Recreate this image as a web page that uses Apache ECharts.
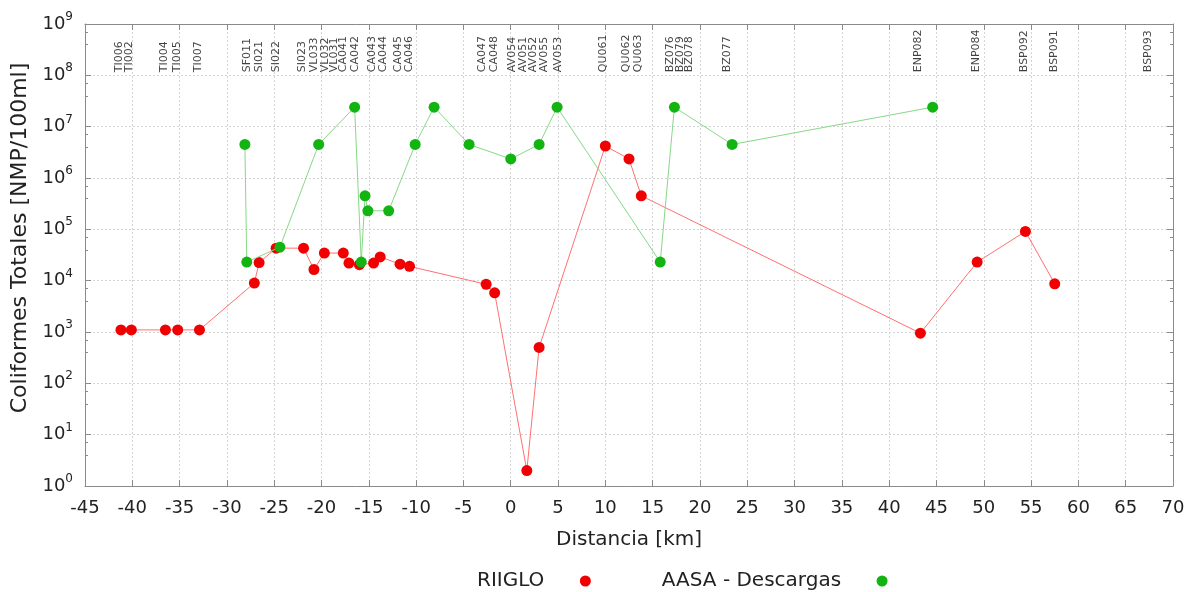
<!DOCTYPE html>
<html>
<head>
<meta charset="utf-8">
<script src="https://cdn.jsdelivr.net/npm/echarts@6/dist/echarts.min.js"></script>
<style>
html,body{margin:0;padding:0;background:#fff;}
#chart{width:1197px;height:592px;}
</style>
</head>
<body>
<div id="chart"></div>
<script>
// ---- Data ----
const riigloX = [-41.2, -40.1, -36.5, -35.2, -32.9, -27.1, -26.6, -24.8, -21.9, -20.8, -19.7, -17.7, -17.1, -16.0, -14.5, -13.8, -11.7, -10.7, -2.6, -1.7, 1.7, 3.0, 10.0, 12.5, 13.8, 43.3, 49.3, 54.4, 57.5];
const riigloY = [1100, 1100, 1100, 1100, 1100, 9000, 22500, 43000, 43000, 16500, 34500, 34500, 22000, 20500, 22000, 29000, 21000, 19000, 8500, 5800, 2, 500, 4200000, 2350000, 450000, 950, 23000, 91000, 8700];

const aasaX = [-28.1, -27.9, -24.4, -20.3, -16.5, -15.8, -15.4, -15.1, -12.9, -10.1, -8.1, -4.4, 0.0, 3.0, 4.9, 15.8, 17.3, 23.4, 44.6];
const aasaY = [4500000, 23000, 45000, 4500000, 24000000, 23000, 450000, 230000, 230000, 4500000, 24000000, 4500000, 2350000, 4500000, 24000000, 23000, 24000000, 4500000, 24000000];

const stationNames = ['TI006','TI002','TI004','TI005','TI007','SF011','SI021','SI022','SI023','VL033','VL032','VL031','CA041','CA042','CA043','CA044','CA045','CA046','CA047','CA048','AV054','AV051','AV052','AV055','AV053','QU061','QU062','QU063','BZ076','BZ079','BZ078','BZ077','ENP082','ENP084','BSP092','BSP091','BSP093'];
const stationX = [-41.4, -40.3, -36.6, -35.3, -33.0, -27.9, -26.6, -24.8, -22.0, -20.8, -19.6, -18.7, -17.7, -16.4, -14.6, -13.5, -11.9, -10.7, -3.0, -1.8, 0.1, 1.3, 2.4, 3.5, 5.0, 9.8, 12.2, 13.5, 16.8, 17.9, 18.9, 22.9, 43.1, 49.2, 54.3, 57.4, 67.4];
const stationLabelY = 1.15e8;

const seriesNames = ['RIIGLO', 'AASA - Descargas'];
const xTitle = 'Distancia [km]';
const yTitle = 'Coliformes Totales [NMP/100ml]';

// ---- Build ----
const pair = (xs, ys) => xs.map((x, i) => [x, ys[i]]);
const FONT = 'DejaVu Sans';

const chart = echarts.init(document.getElementById('chart'), null, {renderer: 'canvas'});
const frame = {show: true, onZero: false, lineStyle: {color: '#8a8a8a', width: 1}};
const grid = {left: 85, right: 24, top: 24, bottom: 106};
const splitStyle = {show: true, lineStyle: {color: '#d4d4d4', type: [2, 2], width: 1}};
const tick = {show: true, inside: true, length: 6, lineStyle: {color: '#8a8a8a'}};
const minor = {show: true, splitNumber: 3, length: 3, lineStyle: {color: '#8a8a8a'}};

chart.setOption({
  animation: false,
  backgroundColor: '#fff',
  textStyle: {fontFamily: FONT},
  grid: grid,
  legend: {
    data: seriesNames,
    left: 472,
    top: 566,
    align: 'right',
    icon: 'circle',
    itemWidth: 72,
    itemHeight: 11,
    itemGap: 71,
    textStyle: {fontFamily: FONT, fontSize: 20, color: '#222'}
  },
  xAxis: [{
    type: 'value', min: -45, max: 70, interval: 5,
    name: xTitle, nameLocation: 'middle', nameGap: 44,
    nameTextStyle: {fontFamily: FONT, fontSize: 20, color: '#222'},
    axisLine: frame,
    axisTick: tick,
    axisLabel: {fontFamily: FONT, fontSize: 18, color: '#222', margin: 13},
    splitLine: splitStyle
  }, {
    type: 'value', min: -45, max: 70, interval: 5, position: 'top',
    axisLine: frame,
    axisTick: tick,
    axisLabel: {show: false},
    splitLine: {show: false}
  }],
  yAxis: [{
    type: 'log', logBase: 10, min: 1, max: 1e9, interval: 1,
    name: yTitle, nameLocation: 'middle', nameGap: 52,
    nameTextStyle: {fontFamily: FONT, fontSize: 22, color: '#222', padding: [0, 0, 0, 34]},
    axisLine: frame,
    axisTick: tick,
    minorTick: minor,
    axisLabel: {
      margin: 12,
      formatter: function (v) {
        const e = Math.round(Math.log10(v));
        return '{b|10}{s|' + e + '}';
      },
      rich: {
        b: {fontFamily: FONT, fontSize: 18, color: '#222', lineHeight: 26},
        s: {fontFamily: FONT, fontSize: 12, color: '#222', verticalAlign: 'top', lineHeight: 14}
      }
    },
    splitLine: splitStyle
  }, {
    type: 'log', logBase: 10, min: 1, max: 1e9, interval: 1, position: 'right',
    axisLine: frame,
    axisTick: tick,
    minorTick: minor,
    axisLabel: {show: false},
    splitLine: {show: false}
  }],
  series: [{
    name: 'stations',
    type: 'scatter',
    silent: true,
    symbolSize: 0,
    data: pair(stationX, stationX.map(() => stationLabelY)),
    label: {
      show: true,
      position: 'inside',
      rotate: 90,
      align: 'left',
      verticalAlign: 'middle',
      fontFamily: FONT,
      fontSize: 11,
      color: '#111',
      formatter: p => stationNames[p.dataIndex]
    },
    z: 1
  }, {
    name: seriesNames[0],
    type: 'line',
    data: pair(riigloX, riigloY),
    symbol: 'circle',
    symbolSize: 11,
    itemStyle: {color: '#f00000'},
    lineStyle: {color: '#ff7070', width: 1},
    z: 3
  }, {
    name: seriesNames[1],
    type: 'line',
    data: pair(aasaX, aasaY),
    symbol: 'circle',
    symbolSize: 11,
    itemStyle: {color: '#12b412'},
    lineStyle: {color: '#88d888', width: 1},
    z: 4
  }]
});
</script>
</body>
</html>
